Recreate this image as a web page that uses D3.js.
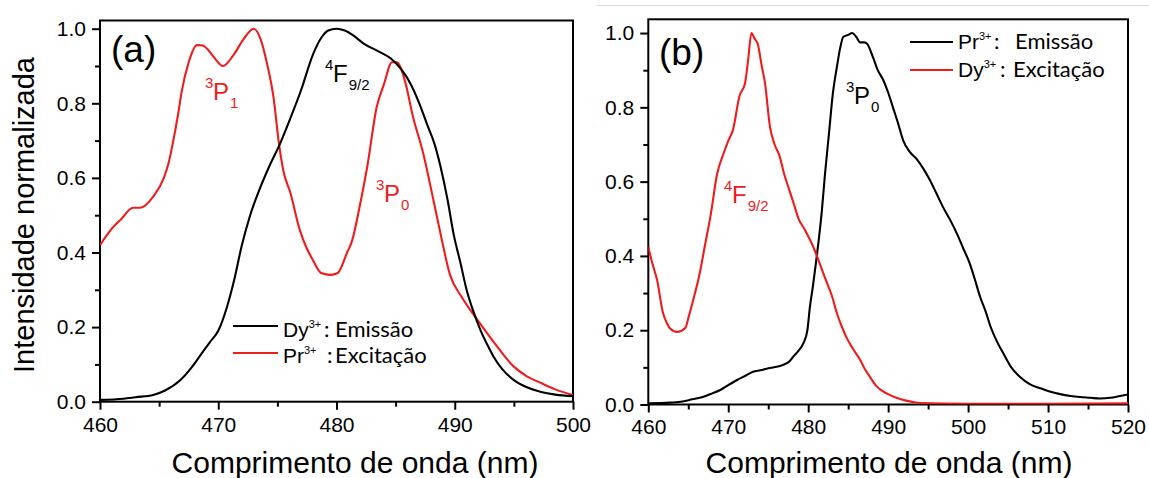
<!DOCTYPE html>
<html>
<head>
<meta charset="utf-8">
<script src="https://cdn.jsdelivr.net/npm/d3@7/dist/d3.min.js"></script>
<style>
  html, body { margin: 0; padding: 0; background: #fff; }
  svg { display: block; }
  text { font-family: "Liberation Sans", Arial, sans-serif; }
</style>
</head>
<body>
<svg id="chart" width="1149" height="478"></svg>
<script>
// ---------- DATA ----------
// Panel (a): Dy3+ emission (black) and Pr3+ excitation (red)
const aEmX = [460,462,463,464.5,465.5,466.8,467.7,468.5,469.3,470,470.7,471.3,472,472.7,473.5,474.3,475.2,476.1,477,478,478.7,479.3,480,480.7,481.5,482.3,483.5,484.6,485.5,486.3,487,487.7,488.3,488.8,489.4,489.9,490.5,491,491.6,492.2,492.8,493.3,494,495,496,497.3,498.5,500];
const aEmY = [0.005,0.008,0.012,0.018,0.03,0.058,0.09,0.125,0.16,0.19,0.25,0.32,0.42,0.5,0.57,0.63,0.69,0.76,0.835,0.93,0.975,0.995,1.0,0.995,0.98,0.96,0.94,0.92,0.89,0.85,0.8,0.74,0.69,0.63,0.54,0.45,0.37,0.30,0.24,0.19,0.15,0.12,0.088,0.058,0.04,0.026,0.019,0.015];
const aExX = [460,460.9,461.8,462.8,463.4,464.5,465.4,465.8,466.2,466.6,466.9,467.5,468.2,468.7,469.1,469.6,470.4,471.3,472.1,473,473.6,474.1,474.7,475.1,475.5,476.1,476.9,477.5,478,478.7,479.5,480.1,480.9,481.3,482,482.6,483.4,484,484.7,485.1,485.7,486.5,487.3,488.2,488.8,489.6,490.6,491.9,493.3,495,496,497.3,498.5,500];
const aExY = [0.42,0.46,0.49,0.52,0.52,0.55,0.60,0.64,0.70,0.77,0.83,0.91,0.956,0.955,0.945,0.925,0.90,0.93,0.97,1.0,0.97,0.91,0.81,0.70,0.62,0.56,0.46,0.41,0.38,0.345,0.34,0.345,0.40,0.43,0.53,0.63,0.79,0.85,0.91,0.91,0.87,0.76,0.67,0.54,0.45,0.34,0.28,0.22,0.16,0.094,0.07,0.05,0.033,0.018];

// Panel (b): Pr3+ emission (black) and Dy3+ excitation (red)
const bEmX = [460,462.7,464.3,465.5,466.8,468,469,470,471.1,472.2,473.1,474,475.2,476.8,477.6,478.1,478.8,479.4,479.9,480.2,480.6,480.9,481.3,481.7,482.1,482.6,483.1,483.6,484,484.4,485,485.5,486,486.5,487,487.4,488.1,488.7,489.4,490,490.6,491.2,491.9,492.7,493.6,494.4,495.2,496,496.9,497.8,498.6,499.4,500.2,500.8,501.5,502.2,502.8,503.6,504.4,505.4,506.5,507.7,509,510.2,511.5,512.8,514,515.3,516.5,517.8,519,520];
const bEmY = [0.003,0.005,0.008,0.014,0.02,0.03,0.039,0.052,0.066,0.078,0.088,0.092,0.098,0.106,0.115,0.128,0.145,0.165,0.2,0.26,0.32,0.37,0.44,0.52,0.62,0.73,0.84,0.91,0.96,0.99,0.995,1.0,0.99,0.975,0.975,0.97,0.935,0.9,0.873,0.84,0.80,0.76,0.71,0.68,0.66,0.635,0.605,0.57,0.53,0.495,0.46,0.42,0.38,0.34,0.29,0.25,0.21,0.17,0.138,0.1,0.074,0.055,0.044,0.035,0.028,0.023,0.02,0.018,0.016,0.018,0.023,0.027];
const bExX = [460,460.5,461.1,461.8,462.3,462.7,463.6,464.6,465.1,465.6,466.4,467.1,467.8,468.6,469.4,470,470.6,471.4,472.1,472.5,472.9,473.3,473.7,474.2,474.6,475.2,475.8,476.4,477,477.6,478.2,478.8,479.6,480.3,481,481.6,482.3,483,483.6,484.2,484.8,485.6,486.5,487.1,487.7,488.5,489.8,491.5,493,494,500,510,520];
const bExY = [0.424,0.38,0.335,0.25,0.22,0.205,0.195,0.205,0.24,0.28,0.35,0.43,0.51,0.62,0.675,0.71,0.74,0.83,0.865,0.93,1.0,0.985,0.97,0.91,0.865,0.75,0.70,0.67,0.62,0.58,0.54,0.50,0.47,0.44,0.405,0.37,0.33,0.29,0.245,0.21,0.18,0.15,0.12,0.095,0.075,0.05,0.03,0.015,0.007,0.004,0.002,0.002,0.003];

// Tick labels
const yTicks = [0.0, 0.2, 0.4, 0.6, 0.8, 1.0];
const yMinor = [0.1, 0.3, 0.5, 0.7, 0.9];
const aXTicks = [460, 470, 480, 490, 500];
const aXMinor = [465, 475, 485, 495];
const bXTicks = [460, 470, 480, 490, 500, 510, 520];
const bXMinor = [465, 475, 485, 495, 505, 515];

const xTitle = "Comprimento de onda (nm)";
const yTitle = "Intensidade normalizada";

// ---------- DRAW ----------
const svg = d3.select("#chart");
const RED = "#ee1c1c";
const tickFont = "21px";

// faint grey rule at the top of panel (b) (present in the source picture)
svg.append("line").attr("x1", 597).attr("x2", 1149).attr("y1", 5.5).attr("y2", 5.5)
  .attr("stroke", "#dcdcdc").attr("stroke-width", 1);

function panel(opt) {
  const x = d3.scaleLinear().domain(opt.xDomain).range([opt.left, opt.right]);
  const y = d3.scaleLinear().domain(opt.yDomain).range([opt.bottom, opt.top]);
  const g = svg.append("g");

  // frame
  g.append("rect").attr("x", opt.left).attr("y", opt.top)
    .attr("width", opt.right - opt.left).attr("height", opt.bottom - opt.top)
    .attr("fill", "none").attr("stroke", "#000").attr("stroke-width", 2);

  const line = d3.line().curve(d3.curveMonotoneX).x(d => x(d[0])).y(d => y(d[1]));
  const clipId = "clip" + opt.id;
  g.append("clipPath").attr("id", clipId).append("rect")
    .attr("x", opt.left).attr("y", opt.top - 2).attr("width", opt.right - opt.left).attr("height", opt.bottom - opt.top + 2);

  opt.series.forEach(s => {
    const pts = s.x.map((v, i) => [v, s.y[i]]);
    g.append("path").datum(pts).attr("d", line)
      .attr("fill", "none").attr("stroke", s.color).attr("stroke-width", 2.1)
      .attr("stroke-linejoin", "round").attr("clip-path", `url(#${clipId})`);
  });

  // axes
  const xAx = g.append("g").attr("transform", `translate(0,${opt.bottom})`)
    .call(d3.axisBottom(x).tickValues(opt.xTicks).tickFormat(d3.format("d")).tickSize(8).tickPadding(7));
  const xMin = g.append("g").attr("transform", `translate(0,${opt.bottom})`)
    .call(d3.axisBottom(x).tickValues(opt.xMinor).tickFormat("").tickSize(5));
  const yAx = g.append("g").attr("transform", `translate(${opt.left},0)`)
    .call(d3.axisLeft(y).tickValues(yTicks).tickFormat(d3.format(".1f")).tickSize(8).tickPadding(6));
  const yMin = g.append("g").attr("transform", `translate(${opt.left},0)`)
    .call(d3.axisLeft(y).tickValues(yMinor).tickFormat("").tickSize(5));
  [xAx, xMin, yAx, yMin].forEach(a => {
    a.select(".domain").remove();
    a.selectAll(".tick line").attr("stroke", "#000").attr("stroke-width", 2);
    a.selectAll("text").attr("fill", "#000").style("font-size", tickFont)
      .style("font-family", '"Liberation Sans", Arial, sans-serif');
  });

  // x title
  g.append("text").attr("x", opt.xTitleX).attr("y", 473).attr("text-anchor", "middle")
    .style("font-size", "30px").attr("fill", "#000").text(xTitle);

  // panel letter
  g.append("text").attr("x", opt.letterX).attr("y", opt.letterY)
    .style("font-size", "37px").attr("fill", "#000").text(opt.letter);

  return { x, y, g };
}

const A = panel({
  id: "a", xDomain: [460, 500], yDomain: [0, 1.022],
  left: 100, right: 573, top: 20.5, bottom: 401.7,
  xTicks: aXTicks, xMinor: aXMinor, xTitleX: 355,
  letter: "(a)", letterX: 111, letterY: 62,
  series: [{ x: aExX, y: aExY, color: RED }, { x: aEmX, y: aEmY, color: "#000" }]
});
const B = panel({
  id: "b", xDomain: [460, 520], yDomain: [0, 1.037],
  left: 648.3, right: 1128, top: 19.3, bottom: 404.5,
  xTicks: bXTicks, xMinor: bXMinor, xTitleX: 889,
  letter: "(b)", letterX: 659, letterY: 65,
  series: [{ x: bEmX, y: bEmY, color: "#000" }, { x: bExX, y: bExY, color: RED }]
});

// y title
svg.append("text").attr("transform", "translate(34,215) rotate(-90)")
  .attr("text-anchor", "middle").style("font-size", "29px").attr("fill", "#000").text(yTitle);

// term-symbol annotations: [sup, main, sub]
function term(x, base, sup, main, sub, color) {
  const g = svg.append("g").attr("fill", color);
  g.append("text").attr("x", x).attr("y", base - 12).style("font-size", "15px").text(sup);
  const m = g.append("text").attr("x", x + 8).attr("y", base).style("font-size", "24px").text(main);
  const w = m.node().getComputedTextLength();
  g.append("text").attr("x", x + 8 + w + 1).attr("y", base + 8).style("font-size", "15px").text(sub);
}
term(205, 100, "3", "P", "1", RED);
term(325, 82, "4", "F", "9/2", "#000");
term(376, 202, "3", "P", "0", RED);
term(724, 203, "4", "F", "9/2", RED);
term(846, 104, "3", "P", "0", "#000");

// legends
function legendEntry(x1, x2, ly, base, ion, colonX, word, wordX, color) {
  svg.append("line").attr("x1", x1).attr("x2", x2).attr("y1", ly).attr("y2", ly)
    .attr("stroke", color).attr("stroke-width", 2.2);
  const t = svg.append("text").attr("x", x2 + 5).attr("y", base).attr("fill", "#000")
    .style("font-size", "21px");
  t.append("tspan").text(ion);
  t.append("tspan").attr("dy", -9).style("font-size", "11px").text("3+");
  svg.append("text").attr("x", colonX).attr("y", base).attr("fill", "#000")
    .style("font-size", "22px").style("font-family", "Lato, 'Open Sans', sans-serif").text(":");
  svg.append("text").attr("x", wordX).attr("y", base).attr("fill", "#000")
    .style("font-size", "22px").style("font-family", "Lato, 'Open Sans', sans-serif").text(word);
}
legendEntry(233, 278, 326, 336.5, "Dy", 324, "Emissão", 335, "#000");
legendEntry(233, 278, 353, 362.5, "Pr", 327, "Excitação", 335, RED);
legendEntry(910, 953, 42, 49, "Pr", 994, "Emissão", 1015, "#000");
legendEntry(910, 953, 70, 77, "Dy", 1000, "Excitação", 1013, RED);
</script>
</body>
</html>
